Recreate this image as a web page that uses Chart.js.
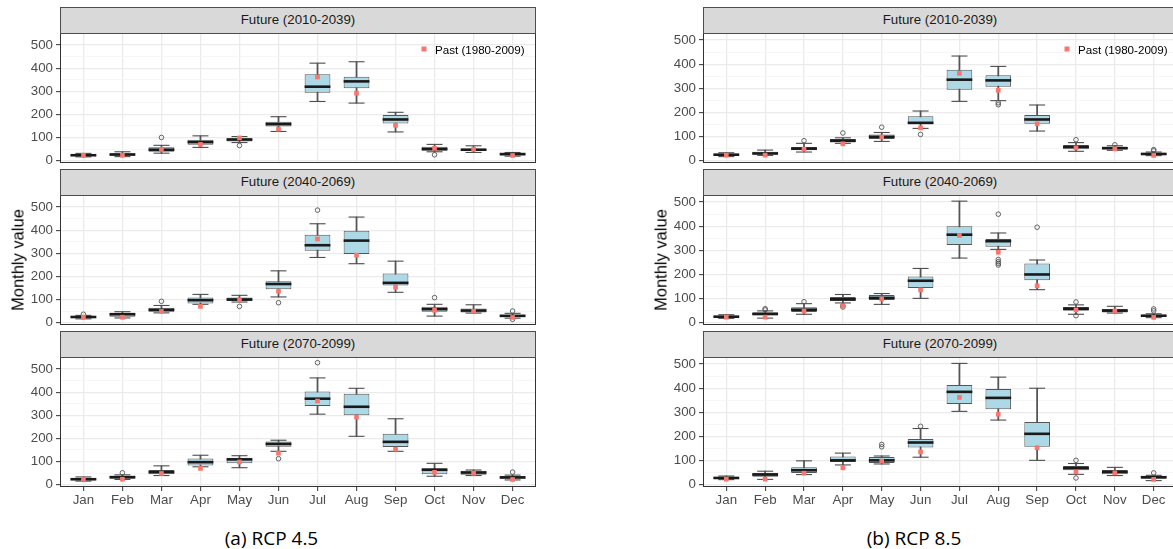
<!DOCTYPE html>
<html><head><meta charset="utf-8">
<script src="https://cdn.jsdelivr.net/npm/chart.js@4.4.1/dist/chart.umd.min.js"></script>
<style>
html,body{margin:0;padding:0;background:#fff;width:1173px;height:549px;overflow:hidden;position:relative;font-family:'Liberation Sans',Arial,sans-serif}
.strip{position:absolute;box-sizing:border-box;background:#d9d9d9;border:1px solid #4d4d4d;color:#1a1a1a;font-size:13.3px;text-align:center;line-height:24px;white-space:nowrap;overflow:hidden}
canvas{position:absolute}
.ytitle{position:absolute;font-size:16.5px;color:#000;transform:translate(-50%,-50%) rotate(-90deg);white-space:nowrap}
.cap{position:absolute;font-family:'Open Sans',sans-serif;font-size:19px;color:#000;transform:translate(-50%,-50%);white-space:nowrap}
.leg{position:absolute;font-size:11.6px;color:#000;white-space:nowrap;transform:translateY(-50%)}
.legpt{position:absolute;width:5px;height:5px;background:#F8766D;transform:translate(-50%,-50%)}
</style>
</head><body>
<script>
// ---------- data ----------
const months = ['Jan','Feb','Mar','Apr','May','Jun','Jul','Aug','Sep','Oct','Nov','Dec'];
const panelTitles = ['Future (2010-2039)','Future (2040-2069)','Future (2070-2099)'];
const captions = ['(a) RCP 4.5','(b) RCP 8.5'];
const legendLabel = 'Past (1980-2009)';
const yTitle = 'Monthly value';
const yTicks = [0,50,100,150,200,250,300,350,400,450,500];
const past = [23,23,48,70,98,136,362,292,153,53,49,22];

// box stats per month: [lower whisker, Q1, median, Q3, upper whisker]
const rcp45_2010 = [[16,20,23,27,31],[17,22,26,32,38],[32,38,47,58,66],[57,69,80,90,107],[78,83,91,97,104],[126,147,158,168,190],[256,294,320,374,422],[249,313,343,363,428],[124,160,178,197,209],[38,43,50,60,70],[35,41,47,51,64],[19,22,28,32,35]];
const rcp45_2010_out = [[2,100],[4,65],[9,25]];
const rcp45_2040 = [[16,20,24,28,31],[20,25,36,42,47],[42,47,55,64,74],[79,83,97,108,122],[89,93,100,108,118],[111,144,167,179,224],[282,311,335,380,428],[255,297,355,398,457],[131,161,172,212,266],[28,47,58,68,79],[41,44,52,61,77],[19,24,29,34,40]];
const rcp45_2040_out = [[0,36],[2,92],[4,70],[5,86],[6,487],[9,108],[11,50],[11,14]];
const rcp45_2070 = [[15,19,23,28,33],[22,25,32,38,42],[39,45,54,63,81],[77,83,97,113,127],[73,92,109,116,125],[144,164,176,186,192],[305,340,372,403,462],[209,300,337,393,417],[144,163,185,220,285],[36,45,64,71,92],[39,42,52,60,63],[20,25,31,36,41]];
const rcp45_2070_out = [[1,51],[5,112],[6,528],[11,54]];
const rcp85_2010 = [[17,21,25,29,33],[22,26,30,37,44],[36,43,50,57,72],[72,75,83,90,95],[80,90,99,109,117],[134,151,157,184,206],[246,294,336,377,434],[249,307,333,354,391],[123,153,171,189,231],[39,48,57,65,75],[43,46,52,58,62],[21,23,28,32,36]];
const rcp85_2010_out = [[2,83],[3,115],[4,139],[5,109],[7,240],[7,232],[9,87],[10,66],[11,46],[11,41]];
const rcp85_2040 = [[18,22,25,29,33],[19,32,36,43,49],[35,44,54,64,79],[82,90,97,107,117],[76,94,103,115,121],[101,144,174,192,225],[268,322,365,400,504],[304,315,338,347,372],[137,176,200,246,260],[35,50,58,65,74],[40,42,50,57,68],[21,25,29,33,37]];
const rcp85_2040_out = [[1,58],[1,53],[2,87],[3,71],[3,65],[7,450],[7,262],[7,253],[7,246],[7,239],[8,396],[9,86],[9,29],[11,57],[11,49]];
const rcp85_2070 = [[21,24,28,32,36],[22,33,42,49,56],[42,49,60,72,99],[82,94,101,117,131],[86,90,101,115,119],[114,154,175,190,233],[304,335,385,413,503],[268,313,360,397,446],[101,157,211,260,400],[43,60,69,78,88],[38,43,53,61,72],[17,25,31,36,39]];
const rcp85_2070_out = [[4,167],[4,157],[5,242],[9,101],[9,28],[11,49]];

// ---------- layout ----------
const plotTops = [33,195,357];
const plotH = 130;
const groups = [
  {gx:0, left:60, right:536, ymin:-10.6, ymax:552.6, titleX:17.5, capX:271.5, legX:424,
   panels:[[rcp45_2010,rcp45_2010_out],[rcp45_2040,rcp45_2040_out],[rcp45_2070,rcp45_2070_out]]},
  {gx:600, left:703, right:1177, ymin:-9.5, ymax:529.5, titleX:661, capX:914, legX:1067,
   panels:[[rcp85_2010,rcp85_2010_out],[rcp85_2040,rcp85_2040_out],[rcp85_2070,rcp85_2070_out]]}
];

const frame = {id:'frame', afterDraw(chart){
  const {ctx, chartArea:a} = chart;
  ctx.save(); ctx.strokeStyle='#333'; ctx.lineWidth=1;
  ctx.strokeRect(Math.round(a.left)+0.5, Math.round(a.top)+0.5, Math.round(a.right-a.left)-1, Math.round(a.bottom-a.top)-1);
  ctx.restore();
}};

function add(el){document.body.appendChild(el);return el;}
function div(cls, txt, css){const d=document.createElement('div');d.className=cls;if(txt!==null)d.textContent=txt;Object.assign(d.style,css);return add(d);}

function makePanel(g, pi, stats, outs){
  const top = plotTops[pi], isBottom = pi===2;
  const xH = isBottom ? 30 : 12, padTop = 12, padR = 4;
  const w = Math.ceil(g.right - g.gx + padR), h = padTop + plotH + xH;
  const c = document.createElement('canvas');
  c.width = w; c.height = h;
  Object.assign(c.style,{left:g.gx+'px', top:(top-padTop)+'px', width:w+'px', height:h+'px'});
  add(c);
  // strip
  div('strip', panelTitles[pi], {left:g.left+'px', top:(top-26)+'px', width:(g.right-g.left)+'px', height:'27px'});
  const pts = k => stats.map((s,i)=>({x:i, y:s[k]}));
  const major = v => Math.abs(v % 100) < 1e-9;
  new Chart(c, {
    type:'bar',
    data:{datasets:[
      {type:'scatter', data: past.map((v,i)=>({x:i,y:v})), pointStyle:'rect', pointRadius:3.3, pointBackgroundColor:'#F8766D', pointBorderWidth:0, pointBorderColor:'#F8766D'},
      {type:'scatter', data: outs.map(([i,v])=>({x:i,y:v})), pointStyle:'circle', pointRadius:2.3, pointBackgroundColor:'rgba(0,0,0,0)', pointBorderColor:'#555', pointBorderWidth:0.9},
      {type:'scatter', data: pts(2), pointStyle:'line', pointRadius:12.9, pointBorderColor:'#1a1a1a', pointBorderWidth:2.6},
      {type:'scatter', data: pts(4), pointStyle:'line', pointRadius:8, pointBorderColor:'#4d4d4d', pointBorderWidth:1.1},
      {type:'scatter', data: pts(0), pointStyle:'line', pointRadius:8, pointBorderColor:'#4d4d4d', pointBorderWidth:1.1},
      {type:'bar', data: stats.map((s,i)=>({x:i,y:[s[1],s[3]]})), backgroundColor:'#ADD8E6', borderColor:'#555', borderWidth:1, borderSkipped:false, grouped:false, barPercentage:0.66, categoryPercentage:1},
      {type:'bar', data: stats.map((s,i)=>({x:i,y:[s[0],s[4]]})), backgroundColor:'#555', borderWidth:0, barThickness:1.1, grouped:false}
    ]},
    options:{
      responsive:false, animation:false, events:[],
      layout:{autoPadding:false, padding:{top:padTop, right:padR, left:0, bottom:0}},
      plugins:{legend:{display:false}, tooltip:{enabled:false}},
      scales:{
        x:{type:'linear', min:-0.6, max:11.6, offset:false,
           afterBuildTicks: s => { s.ticks = months.map((m,i)=>({value:i})); },
           afterFit: s => { s.height = xH; },
           border:{display:false},
           grid:{offset:false, color:'#ebebeb', lineWidth:1.3, drawTicks:isBottom, tickLength:4, tickColor:'#333', tickWidth:1},
           ticks:{display:isBottom, autoSkip:false, maxRotation:0, padding:1, color:'#4d4d4d', font:{family:"'Liberation Sans', Arial, sans-serif", size:13.3}, callback: v => months[v]}
        },
        y:{type:'linear', min:g.ymin, max:g.ymax, beginAtZero:false,
           afterBuildTicks: s => { s.ticks = yTicks.map(v=>({value:v})); },
           afterFit: s => { s.width = g.left - g.gx; },
           border:{display:false},
           grid:{color: ctx => major(ctx.tick.value) ? '#ebebeb' : '#f4f4f4',
                 lineWidth: ctx => major(ctx.tick.value) ? 1.3 : 0.8,
                 drawTicks:true, tickLength:4, tickWidth:1,
                 tickColor: ctx => major(ctx.tick.value) ? '#333' : 'rgba(0,0,0,0)'},
           ticks:{autoSkip:false, padding:3, color:'#4d4d4d', font:{family:"'Liberation Sans', Arial, sans-serif", size:13.3},
                  callback: v => major(v) ? String(v) : ''}
        }
      }
    },
    plugins:[frame]
  });
}

groups.forEach((g, gi) => {
  g.panels.forEach((p, pi) => makePanel(g, pi, p[0], p[1]));
  div('ytitle', yTitle, {left:g.titleX+'px', top:'260px'});
  div('cap', captions[gi], {left:g.capX+'px', top:'538px'});
  div('legpt', null, {left:g.legX+'px', top:'48.5px'});
  div('leg', legendLabel, {left:(g.legX+11)+'px', top:'48.5px'});
});
</script>
</body></html>
